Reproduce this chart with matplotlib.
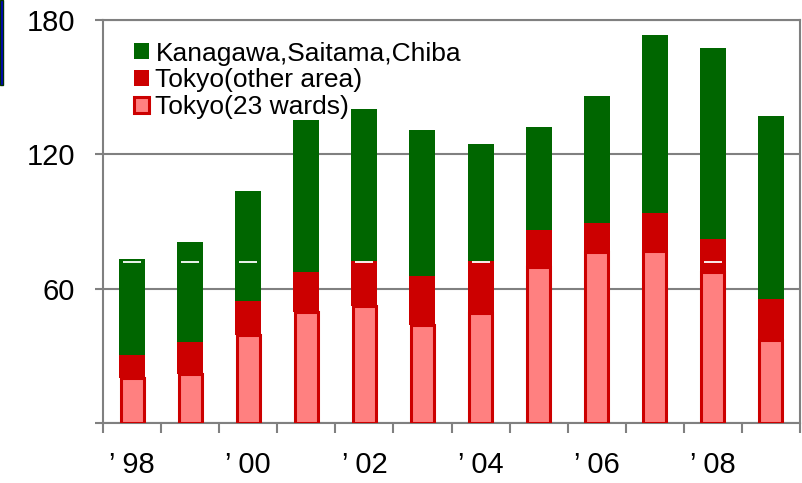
import numpy as np
import matplotlib.pyplot as plt
from matplotlib.patches import Rectangle

plt.rcParams['font.family'] = ['Liberation Sans', 'DejaVu Sans']

# data
years = ['98', '99', '00', '01', '02', '03', '04', '05', '06', '07', '08', '09']
wards23 = [20.1, 21.8, 39.4, 49.7, 52.4, 43.9, 49.1, 69.7, 76.4, 77.0, 67.5, 37.2]
tokyo_other = [10.3, 14.6, 14.9, 17.8, 20.1, 21.9, 23.1, 16.3, 13.0, 16.9, 14.9, 18.2]
kanagawa = [43.0, 44.5, 49.1, 67.7, 67.7, 65.0, 52.6, 46.0, 56.7, 79.4, 85.2, 81.5]
# little white dashes that show on some bars
dash_idx = [0, 1, 2, 4, 6, 10]
dash_val = [72, 72, 72, 72, 72, 72]

green = '#006600'
red = '#CC0000'
pink = '#FF8080'
gray = '#808080'

fig = plt.figure(figsize=(8.02, 4.83), dpi=100)
ax = fig.add_axes([103/802, 60/483, 697/802, 403/483])

x = np.arange(len(years))
w = 0.447
ax.bar(x, wards23, width=0.396, color=pink, edgecolor=red, linewidth=2.2, zorder=3,
       label='Tokyo(23 wards)')
ax.bar(x, tokyo_other, width=w, bottom=wards23, color=red, zorder=3,
       label='Tokyo(other area)')
red_top = np.array(wards23) + np.array(tokyo_other)
ax.bar(x, kanagawa, width=w, bottom=red_top, color=green, zorder=3,
       label='Kanagawa,Saitama,Chiba')
ax.scatter(dash_idx, dash_val, marker='_', s=180, color='white', linewidths=1.3, zorder=4)

ax.set_xlim(-0.5, 11.5)
ax.set_ylim(0, 180)

ax.set_yticks([0, 60, 120, 180])
ax.set_yticklabels(['', '60', '120', '180'])
ax.grid(axis='y', color=gray, linewidth=1.5, zorder=0)

ax.set_xticks(x[::2])
ax.set_xticklabels(['\u2019 ' + y for y in years[::2]])
ax.set_xticks(np.arange(-0.5, 12, 1), minor=True)
ax.tick_params(axis='x', which='major', length=0, pad=20, labelsize=21)
ax.tick_params(axis='x', which='minor', length=7, width=1.5, color=gray)
ax.tick_params(axis='y', length=6, width=1.5, color=gray, pad=14, labelsize=21)

for s in ax.spines.values():
    s.set_color(gray)
    s.set_linewidth(1.5)

handles, labels = ax.get_legend_handles_labels()
ax.legend(handles[::-1], labels[::-1], loc='upper left', bbox_to_anchor=(0.045, 0.946),
          frameon=False, fontsize=19, handlelength=0.55, handleheight=0.55,
          handletextpad=0.25, labelspacing=0.1, borderpad=0, borderaxespad=0)

# blue strip at the left edge of the picture
fig.patches.append(Rectangle((0, 1 - 85/483), 3.5/802, 85/483, transform=fig.transFigure,
                             facecolor='#0000CC', edgecolor='#003300', linewidth=1))

fig.savefig('out.png', dpi=100)
